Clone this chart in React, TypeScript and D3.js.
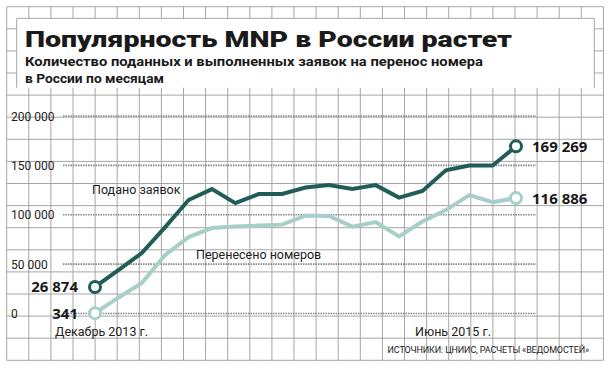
import React, { useRef, useEffect } from 'react';
import * as d3 from 'd3';

// months Dec 2013 .. Jun 2015
const months = [
  '2013-12', '2014-01', '2014-02', '2014-03', '2014-04', '2014-05', '2014-06',
  '2014-07', '2014-08', '2014-09', '2014-10', '2014-11', '2014-12', '2015-01',
  '2015-02', '2015-03', '2015-04', '2015-05', '2015-06'
];
const submitted = [
  26874, 44000, 61200, 87500, 114900, 126000, 111800, 121000, 121000, 127500,
  130000, 126000, 130000, 117400, 124000, 145000, 149800, 149800, 169269
];
const ported = [
  341, 16000, 30900, 59200, 77400, 86500, 88000, 89000, 90000, 99200,
  98700, 88000, 92600, 78000, 93100, 104700, 119900, 112800, 116886
];
const yTicks = [0, 50000, 100000, 150000, 200000];

const title = 'Популярность MNP в России растет';
const subtitle1 = 'Количество поданных и выполненных заявок на перенос номера';
const subtitle2 = 'в России по месяцам';
const seriesNames = ['Подано заявок', 'Перенесено номеров'];
const firstLabel = 'Декабрь 2013 г.';
const lastLabel = 'Июнь 2015 г.';
const source = 'ИСТОЧНИКИ: ЦНИИС, РАСЧЕТЫ «ВЕДОМОСТЕЙ»';

const W = 612;
const H = 368;
const DARK = '#215d57';
const LIGHT = '#a8cfc7';
const FONT = 'Roboto, "Noto Sans", sans-serif';

const fmt = (v: number) => d3.format(',')(v).replace(/,/g, ' ');

export default function App() {
  const svgRef = useRef<SVGSVGElement>(null);

  useEffect(() => {
    const svg = d3.select(svgRef.current);
    svg.selectAll('*').remove();

    const x = d3.scalePoint<string>().domain(months).range([95, 516]);
    const y = d3.scaleLinear().domain([0, 200000]).range([313.5, 116]);

    svg.append('rect').attr('width', W).attr('height', H).attr('fill', '#fff');

    // background grid
    const step = 22.1;
    const g0 = 6.7;
    const xs = d3.range(0, 28).map(i => g0 + i * step);
    const ys = d3.range(0, 17).map(i => g0 + i * step);
    const grid = svg.append('g').attr('stroke', '#a6a6a6').attr('stroke-width', 1);
    grid.selectAll('.gv').data(xs).enter().append('line')
      .attr('x1', d => d).attr('x2', d => d)
      .attr('y1', g0).attr('y2', ys[ys.length - 1]);
    grid.selectAll('.gh').data(ys).enter().append('line')
      .attr('y1', d => d).attr('y2', d => d)
      .attr('x1', g0).attr('x2', xs[xs.length - 1]);

    // title box
    svg.append('rect')
      .attr('x', 16.7).attr('y', 18.3).attr('width', 577.6).attr('height', 69.5)
      .attr('fill', '#fff');
    svg.append('path')
      .attr('d', 'M16.7,87.8V18.3H594.3V87.8')
      .attr('fill', 'none').attr('stroke', '#a6a6a6');

    svg.append('text')
      .attr('x', 25).attr('y', 46.5)
      .attr('textLength', 487).attr('lengthAdjust', 'spacingAndGlyphs')
      .style('font-family', FONT).style('font-weight', 900).style('font-size', '22px')
      .attr('fill', '#1a1a1a').text(title);
    svg.append('text')
      .attr('x', 25).attr('y', 65.5)
      .attr('textLength', 458).attr('lengthAdjust', 'spacingAndGlyphs')
      .style('font-family', FONT).style('font-weight', 700).style('font-size', '13.5px')
      .attr('fill', '#1a1a1a').text(subtitle1);
    svg.append('text')
      .attr('x', 25).attr('y', 83)
      .attr('textLength', 139).attr('lengthAdjust', 'spacingAndGlyphs')
      .style('font-family', FONT).style('font-weight', 700).style('font-size', '13.5px')
      .attr('fill', '#1a1a1a').text(subtitle2);

    // value lines + tick labels
    svg.selectAll('.vl').data(yTicks).enter().append('line')
      .attr('x1', 63).attr('x2', 536)
      .attr('y1', d => y(d)).attr('y2', d => y(d))
      .attr('stroke', '#858585').attr('stroke-width', 1.6)
      .attr('stroke-dasharray', '1.5,1');
    svg.selectAll('.vt').data(yTicks).enter().append('text')
      .attr('x', 11).attr('y', d => y(d) + 4.5)
      .style('font-family', FONT).style('font-size', '12px')
      .attr('fill', '#222').text(d => fmt(d));

    // series
    const line = d3.line<number>()
      .x((d, i) => x(months[i]) as number)
      .y(d => y(d));

    const series = [
      { values: ported, color: LIGHT },
      { values: submitted, color: DARK }
    ];
    series.forEach(s => {
      svg.append('path').datum(s.values)
        .attr('d', line)
        .attr('fill', 'none').attr('stroke', s.color)
        .attr('stroke-width', 4).attr('stroke-linejoin', 'miter');
    });

    // end labels (drawn before circles so circles sit on top)
    const last = months.length - 1;
    const numStyle = (t: any) => t
      .style('font-family', '"Open Sans", "Noto Sans", sans-serif')
      .style('font-weight', 700).style('font-size', '15px')
      .attr('fill', '#1a1a1a');
    numStyle(svg.append('text')
      .attr('x', 78).attr('y', y(submitted[0]) + 5.5).attr('text-anchor', 'end'))
      .text(fmt(submitted[0]));
    numStyle(svg.append('text')
      .attr('x', 78).attr('y', y(ported[0]) + 5.5).attr('text-anchor', 'end'))
      .text(fmt(ported[0]));
    numStyle(svg.append('text')
      .attr('x', 532).attr('y', y(submitted[last]) + 5.5))
      .text(fmt(submitted[last]));
    numStyle(svg.append('text')
      .attr('x', 532).attr('y', y(ported[last]) + 5.5))
      .text(fmt(ported[last]));

    series.forEach(s => {
      [0, last].forEach(i => {
        svg.append('circle')
          .attr('cx', x(months[i]) as number).attr('cy', y(s.values[i]))
          .attr('r', 5.5).attr('fill', '#fff')
          .attr('stroke', s.color).attr('stroke-width', 3);
      });
    });

    // series names
    const labelStyle = (t: any) => t
      .style('font-family', FONT).style('font-size', '12.5px').attr('fill', '#222');
    labelStyle(svg.append('text').attr('x', 92).attr('y', 194)).text(seriesNames[0]);
    labelStyle(svg.append('text').attr('x', 196).attr('y', 258.5)).text(seriesNames[1]);

    // date labels
    labelStyle(svg.append('text').attr('x', 55).attr('y', 336)).text(firstLabel);
    labelStyle(svg.append('text').attr('x', 491).attr('y', 336).attr('text-anchor', 'end'))
      .text(lastLabel);

    svg.append('text')
      .attr('x', 589).attr('y', 353).attr('text-anchor', 'end')
      .style('font-family', FONT).style('font-size', '9px')
      .style('letter-spacing', '-0.15px').attr('fill', '#222')
      .text(source);
  }, []);

  return (
    <svg ref={svgRef} width={W} height={H}
      style={{ position: 'absolute', left: 0, top: 0, display: 'block' }} />
  );
}
